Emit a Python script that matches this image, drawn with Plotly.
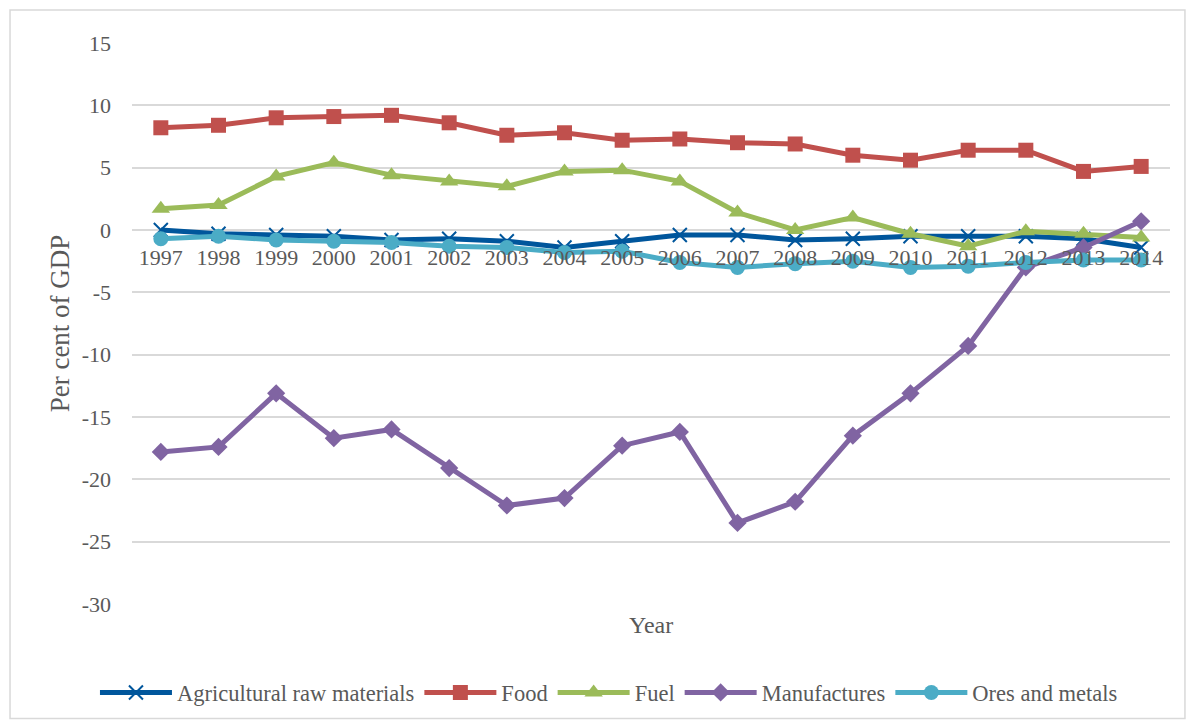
import plotly.graph_objects as go

years = [str(y) for y in range(1997, 2015)]
agri = [0.0, -0.3, -0.4, -0.5, -0.8, -0.7, -0.9, -1.4, -0.9, -0.4, -0.4, -0.8, -0.7, -0.5, -0.5, -0.5, -0.7, -1.4]
food = [8.2, 8.4, 9.0, 9.1, 9.2, 8.6, 7.6, 7.8, 7.2, 7.3, 7.0, 6.9, 6.0, 5.6, 6.4, 6.4, 4.7, 5.1]
fuel = [1.7, 2.0, 4.3, 5.4, 4.4, 3.9, 3.5, 4.7, 4.8, 3.9, 1.4, 0.0, 1.0, -0.3, -1.3, -0.1, -0.3, -0.6]
manuf = [-17.8, -17.4, -13.1, -16.7, -16.0, -19.1, -22.1, -21.5, -17.3, -16.2, -23.5, -21.8, -16.5, -13.1, -9.3, -3.0, -1.4, 0.7]
ores = [-0.7, -0.5, -0.8, -0.9, -1.0, -1.3, -1.4, -1.8, -1.7, -2.6, -3.0, -2.7, -2.5, -3.0, -2.9, -2.6, -2.4, -2.4]

y_ticks = [15, 10, 5, 0, -5, -10, -15, -20, -25, -30]
y_tick_labels = ["15", "10", "5", "0", "-5", "-10", "-15", "-20", "-25", "-30"]

series = [
    ("Agricultural raw materials", agri, "#00569C", "x-thin-open", 14),
    ("Food", food, "#C0504D", "square", 15),
    ("Fuel", fuel, "#9BBB59", "triangle-up", 16),
    ("Manufactures", manuf, "#8064A2", "diamond", 14),
    ("Ores and metals", ores, "#4BACC6", "circle", 15),
]

FONT = "Liberation Serif"
GRAY = "#595959"

fig = go.Figure()
for name, vals, col, sym, sz in series:
    fig.add_trace(go.Scatter(
        x=years, y=vals, name=name, mode="lines+markers",
        line=dict(color=col, width=5),
        marker=dict(symbol=sym, size=sz, color=col,
                    line=dict(color=col, width=2 if sym == "x-thin-open" else 0)),
    ))

fig.update_layout(
    width=1187, height=722,
    margin=dict(l=132, r=17, t=43, b=118, autoexpand=False),
    paper_bgcolor="white", plot_bgcolor="white",
    font=dict(family=FONT, size=22, color=GRAY),
    xaxis=dict(
        type="category", range=[-0.5, 17.5],
        anchor="free", position=2/3, automargin=False,
        showgrid=False, showline=False, zeroline=False,
        ticks="", ticklabelstandoff=12,
        tickfont=dict(family=FONT, size=22, color=GRAY),
        title=None,
    ),
    yaxis=dict(
        range=[-30, 15], tickvals=y_ticks, ticktext=y_tick_labels,
        showgrid=True, gridcolor="#D9D9D9", gridwidth=1.5,
        zeroline=True, zerolinecolor="#D9D9D9", zerolinewidth=1.5,
        showline=False, ticks="", ticklabelstandoff=20, automargin=False,
        tickfont=dict(family=FONT, size=22, color=GRAY),
        title=dict(text="Per cent of GDP", font=dict(family=FONT, size=27, color=GRAY), standoff=4),
    ),
    legend=dict(
        orientation="h", x=0.4595, xanchor="center", y=-0.12, yanchor="top",
        font=dict(family=FONT, size=22.5, color=GRAY), itemwidth=72, tracegroupgap=0,
        bgcolor="rgba(0,0,0,0)",
    ),
    showlegend=True,
)

fig.add_annotation(text="Year", xref="paper", yref="paper", x=0.5, y=-0.01,
                   yanchor="top", showarrow=False, font=dict(size=24, color=GRAY, family=FONT))

fig.add_shape(type="rect", xref="paper", yref="paper",
              x0=-0.1175, x1=1.0144, y0=-0.204, y1=1.0588,
              line=dict(color="#D9D9D9", width=1.5), fillcolor="rgba(0,0,0,0)", layer="below")

fig.write_html("out.html", config={"displayModeBar": False},
               post_script="document.body.style.margin='0';")
